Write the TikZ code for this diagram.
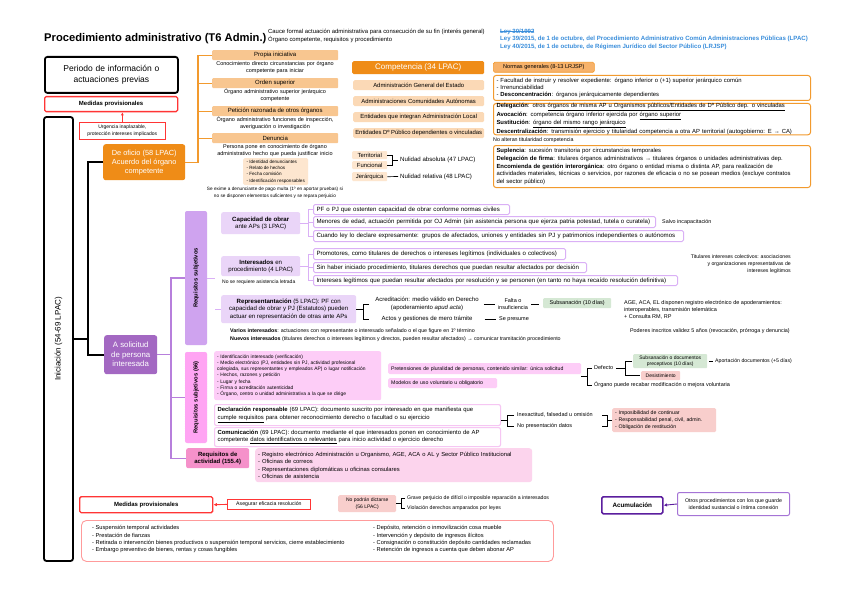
\documentclass[tikz,border=0pt]{standalone}
\usepackage{fontspec}
\setmainfont{Liberation Sans}
\usetikzlibrary{arrows.meta}
\definecolor{oD}{HTML}{EF8C17}
\definecolor{oH}{HTML}{F8C690}
\definecolor{oL}{HTML}{FBD9B6}
\definecolor{oLL}{HTML}{FDE6CF}
\definecolor{oLine}{HTML}{F29A2E}
\definecolor{oN}{HTML}{F7B26A}
\definecolor{pD}{HTML}{A368C2}
\definecolor{pM}{HTML}{CFA3EF}
\definecolor{pL}{HTML}{EAD5F8}
\definecolor{pB}{HTML}{DAB0F6}
\definecolor{pLine}{HTML}{B77FDC}
\definecolor{kM}{HTML}{FFA4F3}
\definecolor{kL}{HTML}{FDCDF7}
\definecolor{kA}{HTML}{F591CA}
\definecolor{kAL}{HTML}{FCD4ED}
\definecolor{kB}{HTML}{F6C6F3}
\definecolor{rB}{HTML}{FF3535}
\definecolor{rL}{HTML}{F8CECC}
\definecolor{rT}{HTML}{FF9B9B}
\definecolor{gL}{HTML}{D5E8D4}
\definecolor{blu}{HTML}{3A8EDB}
\definecolor{dP}{HTML}{5B1E9E}
\definecolor{mP}{HTML}{A574D6}
\newcommand\myfs[2]{\fontsize{#1}{#2}\selectfont}
\newcommand\myul[1]{\underline{#1}}
\newcommand\mystrike[1]{\setbox0\hbox{#1}\rlap{\rule[0.3em]{\wd0}{0.5pt}}#1}
\newcommand\mybox[7]{%
  \pgfmathsetmacro\mbw{#4-#2}%
  \pgfmathsetmacro\mbh{#5-#3}%
  \pgfmathsetmacro\mtw{#4-#2-6}%
  \node[anchor=north west,inner xsep=3pt,inner ysep=0pt,minimum width=\mbw pt,minimum height=\mbh pt,text width=\mtw pt,#6] (#1) at (#2,#3) {#7};}
\newcommand\myboxc[7]{%
  \pgfmathsetmacro\mbw{#4-#2}%
  \pgfmathsetmacro\mbh{#5-#3}%
  \node[anchor=north west,inner sep=0pt,minimum width=\mbw pt,minimum height=\mbh pt,align=center,#6] (#1) at (#2,#3) {#7};}
\begin{document}
\begin{tikzpicture}[x=1pt,y=-1pt,
  oline/.style={draw=oLine,line width=1.2pt},
  bline/.style={draw=black,line width=1.7pt},
  pline/.style={draw=pLine,line width=1.2pt},
  lpline/.style={draw=pB,line width=1pt},
  kline/.style={draw=black,line width=0.7pt},
  hdr/.style={fill=oH,rounded corners=1pt,font=\myfs{6}{7}},
  olt/.style={fill=oL,rounded corners=1.5pt,font=\myfs{5.9}{7}},
  olt2/.style={fill=oLL,rounded corners=1pt,font=\myfs{5.9}{7}},
  ob/.style={draw=oLine,line width=1pt,fill=white,rounded corners=2.5pt,align=left,font=\myfs{5.9}{7.4}},
  pitem/.style={draw=pB,line width=1pt,fill=white,rounded corners=1.5pt,align=left,font=\myfs{6.1}{7}},
  plt/.style={fill=pL,rounded corners=2pt,font=\myfs{6.1}{7.4}},
  note/.style={inner sep=0pt,font=\myfs{5.4}{6.6}},
  dsc/.style={inner sep=0pt,text width=126pt,align=center,font=\myfs{5.5}{6.8}},
]
\fill[white] (0,0) rectangle (848,599);
\useasboundingbox (0,0) rectangle (848,599);

% ---------- header ----------
\node[anchor=west,inner sep=0pt,font=\bfseries\myfs{11.2}{13}] (title) at (44,39) {Procedimiento administrativo (T6 Admin.)};
\node[anchor=north west,inner sep=0pt,align=left,font=\myfs{5.9}{8}] (cauce) at (268,28.5) {Cauce formal actuación administrativa para consecución de su fin (interés general)\\Órgano competente, requisitos y procedimiento};
\node[anchor=north west,inner sep=0pt,align=left,text=blu,font=\bfseries\myfs{6.1}{7.7}] (leyes) at (500,28.5) {\mystrike{Ley 30/1992}\\Ley 39/2015, de 1 de octubre, del Procedimiento Administrativo Común Administraciones Públicas (LPAC)\\Ley 40/2015, de 1 de octubre, de Régimen Jurídico del Sector Público (LRJSP)};

% ---------- left top ----------
\mybox{periodo}{44}{56}{177}{92}{draw,line width=1.8pt,rounded corners=2.5pt,align=center,font=\myfs{8.5}{11}}{Periodo de información o\\actuaciones previas}
\myboxc{med1}{44}{96}{177}{111}{draw=rB,line width=1.3pt,rounded corners=1.5pt,font=\bfseries\myfs{6}{7}}{Medidas provisionales}
\myboxc{urg}{79}{122}{165}{139}{draw=rB,line width=0.7pt,font=\myfs{5}{6.4}}{Urgencia inaplazable,\\protección intereses implicados}
\draw[rB,line width=0.8pt,-{Latex[length=3pt,width=3pt]}] (urg.north) -- (urg.north |- med1.south);

% ---------- de oficio ----------
\myboxc{oficio}{103}{144}{185}{180}{fill=oD,rounded corners=2.5pt,text=white,font=\myfs{7.4}{9}}{De oficio (58 LPAC)\\Acuerdo del órgano\\competente}
\myboxc{pi}{212}{50}{338}{60}{hdr}{Propia iniciativa}
\node[dsc,anchor=north] (pit) at (275,61) {Conocimiento directo circunstancias por órgano\\competente para iniciar};
\myboxc{os}{212}{78}{338}{88}{hdr}{Orden superior}
\node[dsc,anchor=north] (ost) at (275,89) {Órgano administrativo superior jerárquico\\competente};
\myboxc{pr}{212}{106}{338}{116}{hdr}{Petición razonada de otros órganos}
\node[dsc,anchor=north] (prt) at (275,117) {Órgano administrativo funciones de inspección,\\averiguación o investigación};
\myboxc{de}{212}{133}{338}{143}{hdr}{Denuncia}
\node[dsc,anchor=north] (det) at (275,144) {Persona pone en conocimiento de órgano\\administrativo hecho que pueda justificar inicio};
\node[anchor=north west,fill=oLL,rounded corners=1.5pt,inner xsep=2.5pt,inner ysep=0pt,minimum width=65pt,minimum height=27pt,align=left,font=\myfs{4.6}{6.2}] (dl) at (243,158) {- Identidad denunciantes\\- Relato de hechos\\- Fecha comisión\\- Identificación responsables};
\node[anchor=north,inner sep=0pt,align=center,font=\myfs{4.7}{6.5}] (exime) at (275,187) {Se exime a denunciante de pago multa (1º en aportar pruebas) si\\no se disponen elementos suficientes y se repara perjuicio};
\coordinate (ok) at (198,0);
\draw[oline] (oficio.east) -- (ok |- oficio.east) -- (ok |- pi.west) -- (pi.west);
\draw[oline] (ok |- os.west) -- (os.west);
\draw[oline] (ok |- pr.west) -- (pr.west);
\draw[oline] (ok |- de.west) -- (de.west);

% ---------- competencia ----------
\myboxc{comp}{352}{61}{484}{74}{fill=oD,rounded corners=1.5pt,text=white,font=\myfs{8}{9}}{Competencia (34 LPAC)}
\myboxc{age}{353}{80}{484}{90}{olt}{Administración General del Estado}
\myboxc{aca}{353}{96}{484}{106}{olt}{Administraciones Comunidades Autónomas}
\myboxc{eal}{353}{112}{484}{122}{olt}{Entidades que integran Administración Local}
\myboxc{edp}{353}{128}{484}{138}{olt}{Entidades Dº Público dependientes o vinculadas}
\myboxc{terr}{352}{151}{387}{159}{olt2}{Territorial}
\myboxc{func}{352}{161}{387}{169}{olt2}{Funcional}
\myboxc{jer}{352}{172}{387}{181}{olt2}{Jerárquica}
\node[note,anchor=west,font=\myfs{6.1}{7}] (nabs) at (400,160) {Nulidad absoluta (47 LPAC)};
\node[note,anchor=west,font=\myfs{6.1}{7}] (nrel) at (400,176.5) {Nulidad relativa (48 LPAC)};
\coordinate (tk) at (392,0);
\draw[kline] (terr.east) -- (tk |- terr.east) -- (tk |- func.east) -- (func.east);
\draw[kline,shorten >=2pt] (tk |- nabs.west) -- (nabs.west);
\draw[kline,shorten >=2pt] (jer.east) -- (nrel.west);

% ---------- normas generales ----------
\myboxc{normas}{493}{62}{594}{72}{fill=oN,draw=oLine,line width=0.6pt,rounded corners=1.5pt,font=\myfs{5.6}{7}}{Normas generales (8-13 LRJSP)}
\mybox{nb1}{493}{75}{810}{100}{ob}{- Facultad de instruir y resolver expediente: órgano inferior o (+1) superior jerárquico común\\- Irrenunciabilidad\\- \textbf{Desconcentración}: órganos jerárquicamente dependientes}
\mybox{nb2}{493}{103}{810}{134}{ob}{\textbf{Delegación}: otros \myul{órganos de misma AP u Organismos públicos/Entidades de Dº Público dep. o vinculadas}\\\textbf{Avocación}: competencia órgano inferior ejercida por \myul{órgano superior}\\\textbf{Sustitución}: \myul{órgano del mismo rango jerárquico}\\\textbf{Descentralización}: transmisión ejercicio y titularidad competencia a otra AP territorial (autogobierno: E → CA)}
\node[note,anchor=west,font=\myfs{5.3}{6.5}] (noalt) at (493,140) {No alteran titularidad competencia};
\mybox{nb3}{493}{145}{810}{187}{ob,font=\myfs{5.9}{7.7}}{\textbf{Suplencia}: sucesión transitoria por circunstancias temporales\\\textbf{Delegación de firma}: titulares órganos administrativos → titulares órganos o unidades administrativas dep.\\\textbf{Encomienda de gestión interorgánica}: otro órgano o entidad misma o distinta AP, para realización de\\actividades materiales, técnicas o servicios, por razones de eficacia o no se posean medios (excluye contratos\\del sector público)}

% ---------- iniciacion ----------
\node[draw,line width=1.8pt,rounded corners=2.5pt,rotate=90,minimum width=444pt,minimum height=29pt,inner sep=0pt,font=\myfs{8}{9}] (inic) at (58.5,339) {Iniciación (54-69 LPAC)};
\myboxc{sol}{104}{335}{157}{374}{fill=pD,rounded corners=2.5pt,text=white,font=\myfs{7.8}{9.5}}{A solicitud\\de persona\\interesada}
\coordinate (bk) at (88,0);
\draw[bline] (inic.south) -- (bk |- inic.south);
\draw[bline] (oficio.west) -- (bk |- oficio.west) -- (bk |- sol.west) -- (sol.west);

% ---------- requisitos ----------
\node[fill=pM,rounded corners=2pt,rotate=90,minimum width=134pt,minimum height=22pt,inner sep=0pt,font=\bfseries\myfs{5.8}{7}] (rs) at (196,278) {Requisitos subjetivos};
\node[fill=kM,draw=kB,dotted,rounded corners=2pt,rotate=90,minimum width=91pt,minimum height=22pt,inner sep=0pt,font=\bfseries\myfs{5.8}{7}] (rs66) at (196,397.5) {Requisitos subjetivos (66)};
\myboxc{ra}{186}{448}{249}{468}{fill=kA,rounded corners=2pt,font=\bfseries\myfs{6}{7.5}}{Requisitos de\\actividad (155.4)}
\coordinate (pc) at (171,0);
\draw[pline] (sol.east) -- (pc |- sol.east);
\draw[pline] (rs.north) -- (pc |- rs.north) -- (pc |- ra.west) -- (ra.west);
\draw[pline] (pc |- rs66.north) -- (rs66.north);

% capacidad
\myboxc{cap}{221}{212}{300}{234}{plt}{\textbf{Capacidad de obrar}\\ante APs (3 LPAC)}
\mybox{c1}{313}{204}{509}{214}{pitem}{PF o PJ que ostenten capacidad de obrar conforme normas civiles}
\mybox{c2}{313}{216}{655}{227}{pitem}{Menores de edad, actuación permitida por OJ Admin (sin asistencia persona que ejerza patria potestad, tutela o curatela)}
\mybox{c3}{313}{230}{683}{241}{pitem}{Cuando ley lo declare expresamente: grupos de afectados, uniones y entidades sin PJ y patrimonios independientes o autónomos}
\node[note,anchor=west] (salvo) at (662,222) {Salvo incapacitación};
\coordinate (lc) at (215,0);
\coordinate (cc) at (308,0);
\draw[lpline] (rs.south) -- (lc |- rs.south);
\draw[lpline] (cap.east) -- (cc |- cap.east);
\draw[lpline] (c1.west) -- (cc |- c1.west) -- (cc |- c3.west) -- (c3.west);
\draw[lpline] (cc |- c2.west) -- (c2.west);

% interesados
\myboxc{int}{221}{256}{300}{276}{plt}{\textbf{Interesados} en\\procedimiento (4 LPAC)}
\node[note,anchor=north west,font=\myfs{5}{6}] (letr) at (222,280) {No se requiere asistencia letrada};
\mybox{i1}{313}{248}{565}{259}{pitem}{Promotores, como titulares de derechos o intereses legítimos (individuales o colectivos)}
\mybox{i2}{313}{262}{586}{272}{pitem}{Sin haber iniciado procedimiento, titulares derechos que puedan resultar afectados por decisión}
\mybox{i3}{313}{275}{677}{285}{pitem}{Intereses legítimos que puedan resultar afectados por resolución y se personen (en tanto no haya recaído resolución definitiva)}
\draw[lpline] (int.east) -- (cc |- int.east);
\draw[lpline] (i1.west) -- (cc |- i1.west) -- (cc |- i3.west) -- (i3.west);
\draw[lpline] (cc |- i2.west) -- (i2.west);
\node[note,anchor=north east,align=right,font=\myfs{5.2}{6.8}] (titcol) at (791,255) {Titulares intereses colectivos: asociaciones\\y organizaciones representativas de\\intereses legítimos};

% representacion
\myboxc{rep}{221}{295}{356}{323}{plt}{\textbf{Representantación} (5 LPAC): PF con\\capacidad de obrar y PJ (Estatutos) pueden\\actuar en representación de otras ante APs}
\draw[lpline] (lc |- rep.west) -- (rep.west);
\node[note,align=center,font=\myfs{6}{7.5}] (acr) at (427,304) {Acreditación: medio válido en Derecho\\(apoderamiento \textit{apud acta})};
\node[note,font=\myfs{6}{7.5}] (actos) at (427,319) {Actos y gestiones de mero trámite};
\coordinate (rk) at (363,0);
\coordinate (rt) at (369,0);
\draw[kline] (rep.east) -- (rk |- rep.east);
\draw[kline] (rt |- acr) -- (rk |- acr) -- (rk |- actos) -- (rt |- actos);
\node[note,align=center,font=\myfs{5.5}{6.6}] (falta) at (513,304) {Falta o\\insuficiencia};
\draw[kline,shorten <=5pt,shorten >=3pt] (acr.east) -- (acr.east -| falta.west);
\myboxc{subs}{543}{298}{611}{308}{fill=gL,rounded corners=1pt,font=\myfs{5.5}{6.5}}{Subsanación (10 días)}
\draw[kline,shorten <=3pt,shorten >=4pt] (falta.east) -- (falta.east -| subs.west);
\node[note,anchor=west,font=\myfs{5.5}{6.5}] (presume) at (499,319) {Se presume};
\draw[kline,shorten <=12pt,shorten >=3pt] (actos.east) -- (actos.east -| presume.west);
\node[note,anchor=north west,align=left,font=\myfs{5.5}{6.9}] (ageap) at (624,300) {AGE, ACA, EL disponen registro electrónico de apoderamientos:\\interoperables, transmisión telemática\\+ Consulta RM, RP};
\node[note,anchor=east,font=\myfs{5.4}{6.6}] (poder) at (790,331) {Poderes inscritos validez 5 años (revocación, prórroga y denuncia)};
\node[note,anchor=west,font=\myfs{5.3}{6.5}] (varios) at (230,331) {\textbf{Varios interesados}: actuaciones con representante o interesado señalado o el que figure en 1º término};
\node[note,anchor=west,font=\myfs{5.3}{6.5}] (nuevos) at (230,339) {\textbf{Nuevos interesados} (titulares derechos o intereses legítimos y directos, pueden resultar afectados) → comunicar tramitación procedimiento};

% ---------- solicitud (66) ----------
\mybox{pl}{214}{351}{381}{400}{fill=kL,rounded corners=2pt,align=left,font=\myfs{4.9}{6.1}}{- Identificación interesado (verificación)\\- Medio electrónico (PJ, entidades sin PJ, actividad profesional\\colegiada, sus representantes y empleados AP) o lugar notificación\\- Hechos, razones y petición\\- Lugar y fecha\\- Firma o acreditación autenticidad\\- Órgano, centro o unidad administrativa a la que se dirige}
\mybox{pret}{388}{363}{581}{374}{fill=kL,rounded corners=1.5pt,align=left,font=\myfs{5.2}{6.2}}{Pretensiones de pluralidad de personas, contenido similar: única solicitud}
\mybox{mod}{388}{378}{497}{388}{fill=kL,rounded corners=1.5pt,align=left,font=\myfs{5.2}{6.2}}{Modelos de uso voluntario u obligatorio}
\coordinate (pb) at (581,376.5);
\coordinate (pbx) at (587,0);
\node[note,anchor=west,font=\myfs{5.5}{6.5}] (defe) at (594,368) {Defecto};
\node[note,anchor=west,font=\myfs{5.5}{6.5}] (orgrec) at (594,385) {Órgano puede recabar modificación o mejora voluntaria};
\draw[kline] (pb) -- (pbx |- pb);
\draw[kline,shorten <=2pt,shorten >=2pt] (defe.west) -- (pbx |- defe.west) -- (pbx |- orgrec.west) -- (orgrec.west);
\myboxc{subs2}{633}{354}{707}{368}{fill=gL,rounded corners=1pt,font=\myfs{5}{6.2}}{Subsanación o documentos\\preceptivos (10 días)}
\myboxc{desist}{641}{371}{680}{380}{fill=rL,rounded corners=1pt,font=\myfs{5}{6.2}}{Desistimiento}
\coordinate (dbx) at (625,0);
\draw[kline,shorten <=3pt] (defe.east) -- (dbx |- defe.east);
\draw[kline,shorten <=1pt,shorten >=1pt] (subs2.west) -- (dbx |- subs2.west) -- (dbx |- desist.west) -- (desist.west);
\node[note,anchor=west,font=\myfs{5.2}{6.5}] (aport) at (715,361) {Aportación documentos (+5 días)};
\draw[kline,shorten <=2pt,shorten >=2pt] (subs2.east) -- (subs2.east -| aport.west);

\mybox{decl}{214}{404}{500}{425}{fill=white,draw=kB,line width=1.1pt,rounded corners=2pt,align=left,font=\myfs{5.9}{7.5}}{\textbf{Declaración responsable} (69 LPAC): documento suscrito por interesado en que manifiesta que\\\myul{cumple requisitos} para obtener reconocimiento derecho o facultad o su ejercicio}
\mybox{com}{214}{427}{500}{446}{fill=white,draw=kB,line width=1.1pt,rounded corners=2pt,align=left,font=\myfs{5.9}{7.5}}{\textbf{Comunicación} (69 LPAC): documento mediante el que interesados ponen en conocimiento de AP\\competente \myul{datos identificativos o relevantes} para inicio actividad o ejercicio derecho}
\coordinate (dbs) at (501,420.5);
\coordinate (dbx2) at (507,0);
\node[note,anchor=west,font=\myfs{5.5}{6.5}] (inex) at (517,415) {Inexactitud, falsedad u omisión};
\node[note,anchor=west,font=\myfs{5.5}{6.5}] (nopres) at (517,426) {No presentación datos};
\draw[kline] (dbs) -- (dbx2 |- dbs);
\draw[kline,shorten <=3pt,shorten >=3pt] (inex.west) -- (dbx2 |- inex.west) -- (dbx2 |- nopres.west) -- (nopres.west);
\mybox{cons}{612}{408}{716}{432}{fill=rL,rounded corners=1.5pt,align=left,font=\myfs{5.2}{6.6}}{- Imposibilidad de continuar\\- Responsabilidad penal, civil, admin.\\- Obligación de restitución}
\coordinate (cbl) at (602,0);
\coordinate (cbr) at (607,0);
\draw[kline] (cbl |- inex) -- (cbr |- inex) -- (cbr |- nopres) -- (cbl |- nopres);
\draw[kline] (cbr |- cons.west) -- (cons.west);

\mybox{ral}{255}{448}{532}{482}{fill=kAL,rounded corners=3pt,align=left,font=\myfs{5.8}{7.4}}{- Registro electrónico Administración u Organismo, AGE, ACA o AL y Sector Público Institucional\\- Oficinas de correos\\- Representaciones diplomáticas u oficinas consulares\\- Oficinas de asistencia}

% ---------- bottom ----------
\myboxc{med2}{79}{496}{212}{512}{draw=rB,line width=1.4pt,rounded corners=1.5pt,font=\bfseries\myfs{6}{7}}{Medidas provisionales}
\myboxc{aseg}{227}{499}{310}{509}{draw=rB,line width=0.8pt,font=\myfs{5.2}{6.2}}{Asegurar eficacia resolución}
\draw[rB,line width=0.9pt,-{Latex[length=3.5pt,width=3.5pt]}] (aseg.west) -- (med2.east);
\myboxc{nod}{338}{495}{396}{512}{fill=rL,rounded corners=1.5pt,font=\myfs{5}{6.3}}{No podrán dictarse\\(56 LPAC)}
\node[note,anchor=west,font=\myfs{5.2}{6.3}] (grave) at (407,498) {Grave perjuicio de difícil o imposible reparación a interesados};
\node[note,anchor=west,font=\myfs{5.2}{6.3}] (viol) at (407,508) {Violación derechos amparados por leyes};
\coordinate (nbx) at (401,0);
\draw[kline] (nod.east) -- (nbx |- nod.east);
\draw[kline,shorten <=2pt,shorten >=2pt] (grave.west) -- (nbx |- grave.west) -- (nbx |- viol.west) -- (viol.west);
\myboxc{mlist}{81}{520}{553}{561}{draw=rT,line width=0.9pt,rounded corners=5pt}{}
\node[note,anchor=north west,align=left,font=\myfs{5.7}{7.3}] (ml1) at (92,525.5) {- Suspensión temporal actividades\\- Prestación de fianzas\\- Retirada o intervención bienes productivos o suspensión temporal servicios, cierre establecimiento\\- Embargo preventivo de bienes, rentas y cosas fungibles};
\node[note,anchor=north west,align=left,font=\myfs{5.7}{7.3}] (ml2) at (373,525.5) {- Depósito, retención o inmovilización cosa mueble\\- Intervención y depósito de ingresos ilícitos\\- Consignación o constitución depósito cantidades reclamadas\\- Retención de ingresos a cuenta que deben abonar AP};

\myboxc{acum}{601}{496}{662}{513}{draw=dP,line width=1.6pt,rounded corners=1.5pt,font=\bfseries\myfs{6.3}{7.5}}{Acumulación}
\myboxc{otros}{677}{492}{789}{515}{draw=mP,line width=1pt,rounded corners=2pt,font=\myfs{5.3}{6.6}}{Otros procedimientos con los que guarde\\identidad sustancial o íntima conexión}
\draw[dP,line width=0.9pt,-{Latex[length=3.5pt,width=3.5pt]}] (otros.west) -- (acum.east);
\end{tikzpicture}
\end{document}
